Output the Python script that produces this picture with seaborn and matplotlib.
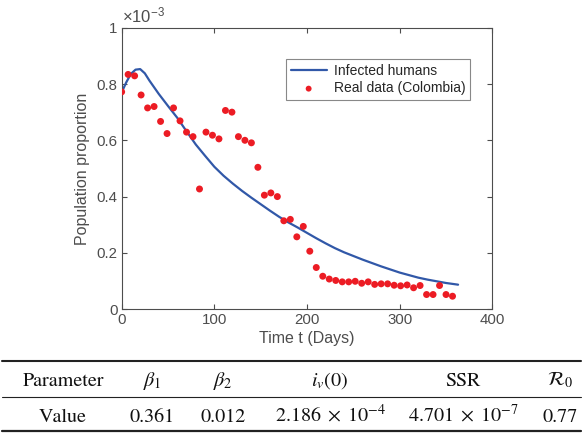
import matplotlib
matplotlib.use("Agg")
import matplotlib.pyplot as plt
import seaborn as sns
import pandas as pd
from matplotlib.lines import Line2D
from matplotlib.ticker import FuncFormatter

# ---- data (population proportion in units of 1e-3) ----
data_days = [0, 7, 14, 21, 28, 35, 42, 49, 56, 63, 70, 77, 84, 91, 98, 105, 112, 119,
             126, 133, 140, 147, 154, 161, 168, 175, 182, 189, 196, 203, 210, 217, 224,
             231, 238, 245, 252, 259, 266, 273, 280, 287, 294, 301, 308, 315, 322, 329,
             336, 343, 350, 357]
data_vals = [0.772, 0.834, 0.829, 0.761, 0.715, 0.720, 0.667, 0.624, 0.715, 0.669, 0.629,
             0.613, 0.427, 0.629, 0.618, 0.605, 0.706, 0.700, 0.613, 0.600, 0.591, 0.504,
             0.405, 0.413, 0.400, 0.314, 0.319, 0.257, 0.294, 0.206, 0.148, 0.117, 0.107,
             0.102, 0.097, 0.097, 0.099, 0.092, 0.097, 0.088, 0.090, 0.090, 0.085, 0.083,
             0.086, 0.076, 0.084, 0.052, 0.052, 0.084, 0.052, 0.046]

model_days = [0, 5, 10, 15, 20, 25, 30, 40, 50, 60, 70, 80, 90, 100, 110, 120, 130, 140,
              150, 160, 170, 180, 190, 200, 210, 220, 230, 240, 250, 260, 270, 280, 290,
              300, 310, 320, 330, 340, 350, 363]
model_vals = [0.770, 0.806, 0.836, 0.851, 0.853, 0.838, 0.812, 0.765, 0.722, 0.680, 0.632,
              0.585, 0.545, 0.506, 0.474, 0.446, 0.420, 0.396, 0.373, 0.350, 0.328, 0.308,
              0.290, 0.271, 0.252, 0.234, 0.217, 0.202, 0.189, 0.176, 0.164, 0.152, 0.141,
              0.130, 0.121, 0.112, 0.105, 0.099, 0.093, 0.087]

x_ticks = [0, 100, 200, 300, 400]
y_ticks = [0, 0.2, 0.4, 0.6, 0.8, 1.0]

table_header = ["Parameter", r"$\beta_1$", r"$\beta_2$", r"$i_v(0)$", "SSR", r"$\mathcal{R}_0$"]
table_values = ["Value", "0.361", "0.012", r"$2.186\;\times\;10^{-4}$",
                r"$4.701\;\times\;10^{-7}$", "0.77"]

# ---- style ----
sns.set_style("ticks")
plt.rcParams["font.family"] = ["Liberation Sans", "DejaVu Sans"]
plt.rcParams["mathtext.fontset"] = "custom"
plt.rcParams["mathtext.rm"] = "Liberation Sans"
plt.rcParams["mathtext.it"] = "Liberation Sans:italic"

axis_col = "#4d4d4d"
text_col = "#4d4d4d"

fig = plt.figure(figsize=(5.82, 4.33), dpi=100)
ax = fig.add_axes([0.209, 0.286, 0.637, 0.650])

df_model = pd.DataFrame({"t": model_days, "v": model_vals})
df_data = pd.DataFrame({"t": data_days, "v": data_vals})

sns.lineplot(data=df_model, x="t", y="v", ax=ax, color="#3158a8", linewidth=1.6,
             label="Infected humans", zorder=2)
sns.scatterplot(data=df_data, x="t", y="v", ax=ax, color="#ec1c24", s=25,
                edgecolor="none", label="Real data (Colombia)", zorder=3)

ax.set_xlim(0, 400)
ax.set_ylim(0, 1.0)
ax.set_xticks(x_ticks)
ax.set_yticks(y_ticks)
ax.yaxis.set_major_formatter(FuncFormatter(lambda v, p: "%g" % v))
ax.set_xlabel("Time t (Days)", fontsize=11.5, color=text_col, labelpad=3)
ax.set_ylabel("Population proportion", fontsize=11.5, color=text_col, labelpad=5)
ax.tick_params(direction="in", length=3.5, width=0.8, colors=axis_col,
               labelsize=10.8, labelcolor=text_col, top=True, right=True, pad=3)
for s in ax.spines.values():
    s.set_visible(True)
    s.set_color(axis_col)
    s.set_linewidth(0.8)

ax.text(0.0, 1.008, r"$\times10^{-3}$", transform=ax.transAxes, fontsize=12,
        color=text_col, ha="left", va="bottom")

leg = ax.legend(loc="upper right", bbox_to_anchor=(0.94, 0.889), borderaxespad=0,
                fontsize=10, frameon=True, fancybox=False, handlelength=2.6,
                handletextpad=0.5, labelspacing=0.25, borderpad=0.35, markerscale=0.85)
leg.get_frame().set_edgecolor("#6b6b6b")
leg.get_frame().set_linewidth(0.8)
for t in leg.get_texts():
    t.set_color("#262626")

# ---- table ----
fig.add_artist(Line2D([0.004, 0.998], [0.1663, 0.1663], color="#222222", lw=1.5))
fig.add_artist(Line2D([0.004, 0.998], [0.0838, 0.0838], color="#222222", lw=0.8))
fig.add_artist(Line2D([0.004, 0.998], [0.0055, 0.0055], color="#222222", lw=1.6))

col_x = [0.1082, 0.2612, 0.3832, 0.567, 0.7955, 0.9622]
for x, h, v in zip(col_x, table_header, table_values):
    fig.text(x, 0.1092, h, ha="center", va="baseline", fontsize=14.5, color="#111111",
             family="STIXGeneral", math_fontfamily="stix")
    fig.text(x, 0.0261, v, ha="center", va="baseline", fontsize=14.5, color="#111111",
             family="STIXGeneral", math_fontfamily="stix")

fig.savefig("out.png", dpi=100)
